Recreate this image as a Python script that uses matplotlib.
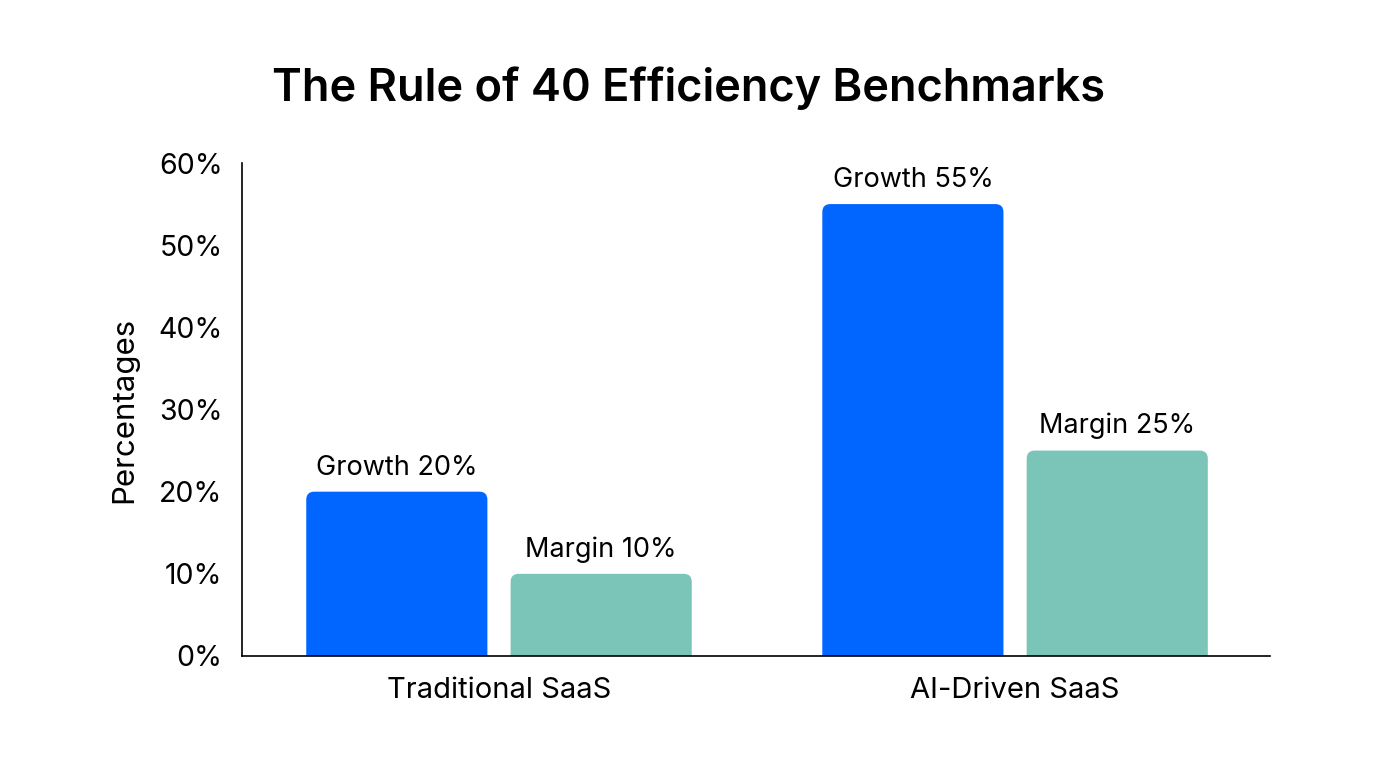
import matplotlib.pyplot as plt
from matplotlib.patches import FancyBboxPatch
import numpy as np

plt.rcParams['font.family'] = ['Inter', 'DejaVu Sans']

categories = ['Traditional SaaS', 'AI-Driven SaaS']
growth = [20, 55]
margin = [10, 25]
series_names = ['Growth', 'Margin']
colors = ['#0066FF', '#7AC4B8']

fig = plt.figure(figsize=(13.76, 7.68), dpi=100)
ax = fig.add_axes([242 / 1376, 1 - 656 / 768, 1028 / 1376, 493 / 768])

x = np.arange(len(categories))
width = 0.351
offset = 0.198

ax.set_xlim(-0.498, 1.494)
ax.set_ylim(0, 60)

# pixel -> data scale, used to keep corners round
px_x = 1 / 516
px_y = 60 / 493
radius = 8 * px_x
aspect = px_y / px_x

for vals, name, col, off in zip([growth, margin], series_names, colors, [-offset, offset]):
    for xi, v in zip(x, vals):
        left = xi + off - width / 2
        patch = FancyBboxPatch((left, -5), width, v + 5,
                               boxstyle='round,pad=0,rounding_size=%f' % radius,
                               mutation_aspect=aspect, facecolor=col,
                               edgecolor='none')
        ax.add_patch(patch)
        ax.annotate('%s %d%%' % (name, v), (xi + off, v), xytext=(0, 8),
                    textcoords='offset points', ha='center', va='bottom',
                    fontsize=19.5)

ax.set_xticks(x)
ax.set_xticklabels(categories, fontsize=21)
ax.set_yticks(np.arange(0, 61, 10))
ax.set_yticklabels(['%d%%' % t for t in range(0, 61, 10)], fontsize=20.5)
ax.tick_params(axis='y', length=0, pad=14)
ax.tick_params(axis='x', length=0, pad=15)

ax.spines['top'].set_visible(False)
ax.spines['right'].set_visible(False)
ax.spines['left'].set_linewidth(1.2)
ax.spines['bottom'].set_linewidth(1.2)

ax.set_ylabel('Percentages', fontsize=22.5, labelpad=14)
fig.text(688 / 1376, 1 - 88 / 768, 'The Rule of 40 Efficiency Benchmarks',
         ha='center', va='center', fontsize=32.5, fontweight='semibold')

fig.savefig('out.png', dpi=100, facecolor='white')
